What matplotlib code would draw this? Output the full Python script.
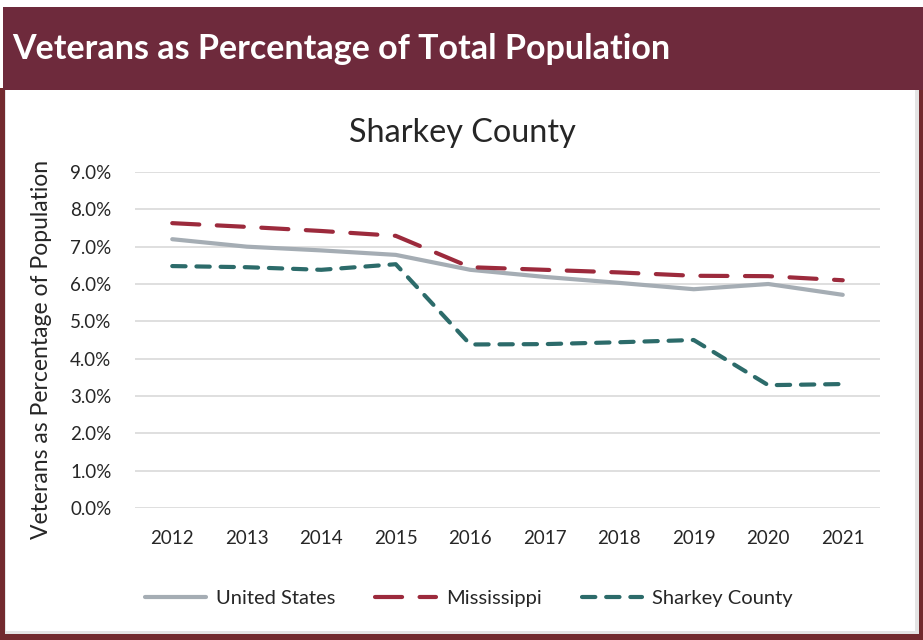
import matplotlib
matplotlib.use("Agg")
import matplotlib.pyplot as plt
from matplotlib.patches import Rectangle
from matplotlib.ticker import FuncFormatter, MultipleLocator

years = [2012, 2013, 2014, 2015, 2016, 2017, 2018, 2019, 2020, 2021]
united_states = [7.2, 7.0, 6.9, 6.78, 6.38, 6.19, 6.03, 5.86, 6.0, 5.71]
mississippi = [7.63, 7.53, 7.42, 7.29, 6.45, 6.38, 6.31, 6.22, 6.21, 6.1]
sharkey_county = [6.48, 6.45, 6.38, 6.53, 4.38, 4.39, 4.44, 4.5, 3.29, 3.32]

maroon = "#6E2A3C"
border = "#722A2E"
c_us = "#A5ADB4"
c_ms = "#9C2A3C"
c_sc = "#2C6B6A"
txt = "#262626"

plt.rcParams["font.family"] = ["Lato", "DejaVu Sans"]

W, H = 923, 640
fig = plt.figure(figsize=(W / 100, H / 100), dpi=100)
fig.patch.set_facecolor("white")

def px(x0, y0, x1, y1):
    # pixel box (top-left origin) -> figure fraction rectangle
    return (x0 / W, 1 - y1 / H, (x1 - x0) / W, (y1 - y0) / H)

# Outer frame and header banner
for (x0, y0, x1, y1, col) in [
    (0, 88, W, H, border),
    (5, 88, 919, 634, "#E4E4E4"),
    (6, 89, 915, 631, "white"),
    (3, 7, W, 90, maroon),
]:
    x, y, w, h = px(x0, y0, x1, y1)
    fig.patches.append(Rectangle((x, y), w, h, transform=fig.transFigure,
                                 facecolor=col, edgecolor="none", zorder=-5))

fig.text(12 / W, 1 - 49 / H, "Veterans as Percentage of Total Population",
         color="white", fontsize=24.5, fontweight="bold", va="center", ha="left")

ax = fig.add_axes(px(135, 172, 880, 508))
ax.set_zorder(2)
ax.set_facecolor("none")

ax.plot(years, united_states, color=c_us, lw=3.0, solid_capstyle="round",
        label="United States", zorder=3)
ax.plot(years, mississippi, color=c_ms, lw=3.0, dash_capstyle="round",
        dashes=(6.5, 4.2), label="Mississippi", zorder=4)
ax.plot(years, sharkey_county, color=c_sc, lw=3.0, dash_capstyle="round",
        dashes=(3.2, 2.6), label="Sharkey County", zorder=4)

ax.set_xlim(years[0] - 0.5, years[-1] + 0.5)
ax.set_ylim(0, 9)
ax.yaxis.set_major_locator(MultipleLocator(1))
ax.yaxis.set_major_formatter(FuncFormatter(lambda v, p: f"{v:.1f}%"))
ax.set_xticks(years)
ax.set_xticklabels([str(y) for y in years])
ax.grid(axis="y", color="#DCDCDC", lw=1.3)
ax.set_axisbelow(True)
for s in ax.spines.values():
    s.set_visible(False)
ax.tick_params(length=0, labelsize=13.5, colors=txt)
ax.tick_params(axis="x", pad=16)
ax.tick_params(axis="y", pad=17)

ax.set_ylabel("Veterans as Percentage of Population", fontsize=16.5, color=txt)
ax.yaxis.set_label_coords(-0.111, 0.473)
fig.text(462 / W, 1 - 133 / H, "Sharkey County", fontsize=23.3, color=txt,
         ha="center", va="center")

leg = fig.legend(loc="center", bbox_to_anchor=(469 / W, 1 - 598 / H), ncol=3,
                 frameon=False, fontsize=14.5, handlelength=3.0,
                 columnspacing=2.0, handletextpad=0.5)
for t in leg.get_texts():
    t.set_color(txt)

fig.savefig("out.png", dpi=100, facecolor="white")
